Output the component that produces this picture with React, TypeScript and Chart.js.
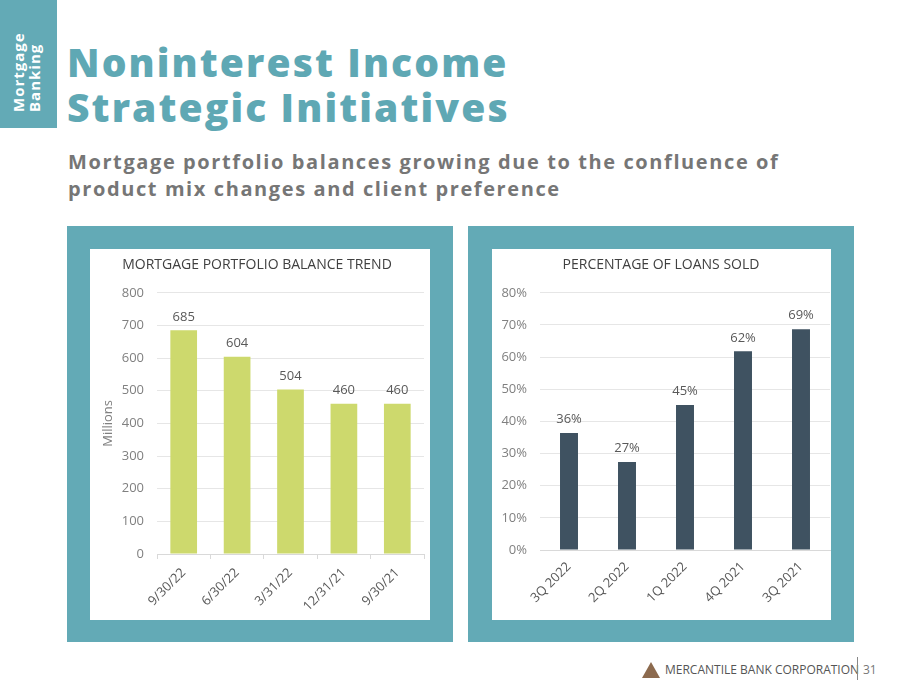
import React, { useEffect, useRef } from "react";
import { Chart, registerables } from "chart.js";

Chart.register(...registerables);

const balanceCategories = ["9/30/22", "6/30/22", "3/31/22", "12/31/21", "9/30/21"];
const balanceValues = [685, 604, 504, 460, 460];
const balanceTicks = [0, 100, 200, 300, 400, 500, 600, 700, 800];

const soldCategories = ["3Q 2022", "2Q 2022", "1Q 2022", "4Q 2021", "3Q 2021"];
const soldValues = [36.4, 27.4, 45.1, 61.8, 68.7];
const soldTicks = [0, 10, 20, 30, 40, 50, 60, 70, 80];

const FONT = "'Open Sans', sans-serif";
const TEAL = "#63aab6";

const valueLabels = {
  id: "valueLabels",
  afterDatasetsDraw(chart: any, _args: any, opts: any) {
    const ctx = chart.ctx;
    const meta = chart.getDatasetMeta(0);
    const data = chart.data.datasets[0].data;
    ctx.save();
    ctx.font = `13px ${FONT}`;
    ctx.fillStyle = "#595959";
    ctx.textAlign = "center";
    ctx.textBaseline = "bottom";
    meta.data.forEach((bar: any, i: number) => {
      const v = data[i];
      const txt = opts.percent ? Math.round(v) + "%" : String(v);
      ctx.fillText(txt, bar.x, bar.y - 7);
    });
    ctx.restore();
  },
};

function makeConfig(
  title: string,
  labels: string[],
  values: number[],
  tickVals: number[],
  color: string,
  barPct: number,
  percent: boolean,
  yWidth: number,
  xHeight: number,
  padRight: number,
  showAxisTicks: boolean,
  xPad: number
): any {
  return {
    type: "bar",
    data: {
      labels,
      datasets: [
        {
          data: values,
          backgroundColor: color,
          barPercentage: barPct,
          categoryPercentage: 1,
        },
      ],
    },
    plugins: [valueLabels],
    options: {
      responsive: false,
      maintainAspectRatio: false,
      animation: false,
      layout: { padding: { left: 0, right: padRight, top: 0, bottom: 0 } },
      plugins: {
        legend: { display: false },
        tooltip: { enabled: false },
        valueLabels: { percent },
        title: {
          display: true,
          text: title,
          color: "#404040",
          font: { family: FONT, size: 14, weight: "normal" },
          padding: { top: 8, bottom: 19 },
        },
      },
      scales: {
        x: {
          afterFit(scale: any) {
            scale.height = xHeight;
          },
          grid: {
            display: true,
            drawOnChartArea: false,
            drawTicks: showAxisTicks,
            tickLength: 5,
            color: "#d9d9d9",
          },
          border: { display: true, color: "#d9d9d9" },
          ticks: {
            color: "#595959",
            font: { family: FONT, size: 13 },
            maxRotation: 45,
            minRotation: 45,
            padding: xPad,
          },
        },
        y: {
          min: tickVals[0],
          max: tickVals[tickVals.length - 1],
          afterFit(scale: any) {
            scale.width = yWidth;
          },
          afterBuildTicks(scale: any) {
            scale.ticks = tickVals.map((v) => ({ value: v }));
          },
          grid: { color: "#e6e6e6", drawTicks: false },
          border: { display: false },
          ticks: {
            color: "#808080",
            font: { family: FONT, size: 13 },
            padding: 13,
            callback: (v: number) => (percent ? v + "%" : String(v)),
          },
          title: percent
            ? { display: false }
            : {
                display: true,
                text: "Millions",
                color: "#808080",
                font: { family: FONT, size: 13 },
                padding: { top: 10, bottom: 0 },
              },
        },
      },
    },
  };
}

function BarChart(props: { config: any; width: number; height: number }) {
  const ref = useRef<HTMLCanvasElement>(null);
  useEffect(() => {
    const chart = new Chart(ref.current as HTMLCanvasElement, props.config);
    return () => chart.destroy();
  }, []);
  return (
    <canvas
      ref={ref}
      width={props.width}
      height={props.height}
      style={{ width: props.width, height: props.height, display: "block" }}
    />
  );
}

export default function App() {
  const leftCfg = makeConfig(
    "MORTGAGE PORTFOLIO BALANCE TREND",
    balanceCategories,
    balanceValues,
    balanceTicks,
    "#cdd96d",
    0.5,
    false,
    67,
    66,
    6,
    true,
    6
  );
  const rightCfg = makeConfig(
    "PERCENTAGE OF LOANS SOLD",
    soldCategories,
    soldValues,
    soldTicks,
    "#3f5261",
    0.31,
    true,
    48,
    70,
    1,
    false,
    9
  );
  const abs = (l: number, t: number, w: number, h: number, extra: any = {}) => ({
    position: "absolute" as const,
    left: l,
    top: t,
    width: w,
    height: h,
    ...extra,
  });
  return (
    <div
      style={{
        position: "fixed",
        left: 0,
        top: 0,
        width: 900,
        height: 695,
        background: "#ffffff",
        overflow: "hidden",
        fontFamily: FONT,
      }}
    >
      <div style={abs(0, 0, 57, 128, { background: TEAL })}>
        <div
          style={{
            position: "absolute",
            left: 10,
            top: 112,
            transform: "rotate(-90deg)",
            transformOrigin: "0 0",
            color: "#ffffff",
            fontWeight: 700,
            fontSize: 15,
            letterSpacing: 1,
            lineHeight: "16px",
            whiteSpace: "nowrap",
          }}
        >
          Mortgage
          <br />
          Banking
        </div>
      </div>
      <div
        style={{
          position: "absolute",
          left: 67,
          top: 39,
          color: "#5fa8b4",
          fontWeight: 800,
          fontSize: 39,
          letterSpacing: 2.1,
          lineHeight: "45px",
          whiteSpace: "nowrap",
        }}
      >
        Noninterest Income
        <br />
        Strategic Initiatives
      </div>
      <div
        style={{
          position: "absolute",
          left: 68,
          top: 148,
          color: "#767676",
          fontWeight: 700,
          fontSize: 20,
          letterSpacing: 1.6,
          lineHeight: "27px",
          whiteSpace: "nowrap",
        }}
      >
        Mortgage portfolio balances growing due to the confluence of
        <br />
        product mix changes and client preference
      </div>

      <div style={abs(67, 226, 386, 416, { background: TEAL })} />
      <div style={abs(90, 249, 340, 371, { background: "#ffffff" })}>
        <BarChart config={leftCfg} width={340} height={371} />
      </div>

      <div style={abs(468, 226, 386, 416, { background: TEAL })} />
      <div style={abs(492, 249, 339, 371, { background: "#ffffff" })}>
        <BarChart config={rightCfg} width={339} height={371} />
      </div>

      <svg style={abs(642, 662, 18, 16)} viewBox="0 0 18 16">
        <polygon points="9,0 18,16 0,16" fill="#8c6a4e" />
      </svg>
      <div
        style={{
          position: "absolute",
          left: 665,
          top: 662,
          fontSize: 12,
          color: "#555555",
          whiteSpace: "nowrap",
          lineHeight: "16px",
        }}
      >
        MERCANTILE BANK CORPORATION
      </div>
      <div style={abs(857, 657, 1, 23, { background: "#888888" })} />
      <div
        style={{
          position: "absolute",
          left: 863,
          top: 662,
          fontSize: 12,
          color: "#777777",
          lineHeight: "16px",
        }}
      >
        31
      </div>
    </div>
  );
}
